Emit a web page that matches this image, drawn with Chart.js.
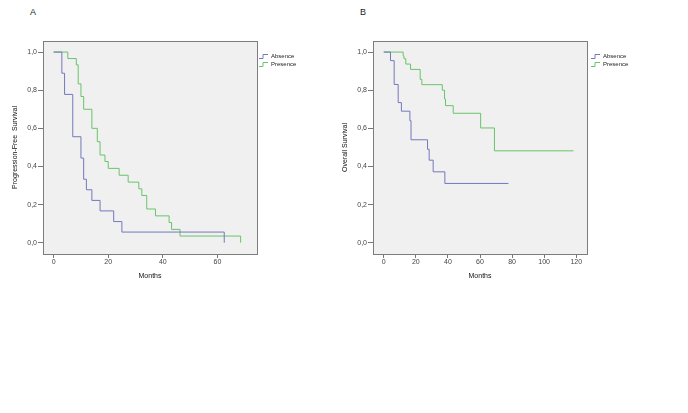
<!DOCTYPE html>
<html>
<head>
<meta charset="utf-8">
<script src="https://cdn.jsdelivr.net/npm/chart.js@4/dist/chart.umd.min.js"></script>
<style>
  body { margin: 0; background: #fff; width: 688px; height: 413px; overflow: hidden; }
  .panel { position: absolute; top: 0; }
  .lbl { position: absolute; font: 9px "Liberation Sans", Arial, sans-serif; color: #222; }
</style>
</head>
<body>
<div class="lbl" style="left:30px;top:7px">A</div>
<div class="lbl" style="left:360px;top:7px">B</div>
<canvas id="chartA" class="panel" style="left:0px" width="330" height="300"></canvas>
<canvas id="chartB" class="panel" style="left:330px" width="358" height="300"></canvas>
<script>
// Panel A - progression-free survival (months, survival)
const pfsAbsenceT = [0, 3, 4, 7, 10, 11, 12, 14, 17, 22, 25, 62.5];
const pfsAbsenceS = [1, 0.889, 0.778, 0.556, 0.444, 0.333, 0.278, 0.222, 0.167, 0.111, 0.056, 0];
const pfsPresenceT = [0, 5.2, 8.3, 9, 10, 11, 14, 16, 17, 18.8, 20, 24, 27.3, 31.2, 32.3, 34.1, 37.3, 42.3, 43.2, 46.3, 68.5];
const pfsPresenceS = [1, 0.966, 0.933, 0.833, 0.767, 0.7, 0.6, 0.53, 0.46, 0.426, 0.39, 0.354, 0.318, 0.283, 0.248, 0.177, 0.141, 0.106, 0.07, 0.035, 0];

// Panel B - overall survival
const osAbsenceT = [0, 4.2, 6.5, 9, 11, 16.3, 17, 27.3, 28.3, 30.8, 38.1, 77.7];
const osAbsenceS = [1, 0.955, 0.83, 0.735, 0.69, 0.64, 0.54, 0.49, 0.433, 0.372, 0.311, 0.311];
const osPresenceT = [0, 12.1, 12.6, 13.75, 16.7, 22.7, 23.75, 36.5, 37.9, 38.5, 43.3, 60.4, 69, 118.3];
const osPresenceS = [1, 0.98, 0.965, 0.937, 0.909, 0.857, 0.829, 0.8, 0.754, 0.719, 0.679, 0.602, 0.482, 0.482];

const groups = ['Absence', 'Presence'];
const yTicks = [0, 0.2, 0.4, 0.6, 0.8, 1.0];
const xTicksA = [0, 20, 40, 60];
const xTicksB = [0, 20, 40, 60, 80, 100, 120];

const blue = '#7478bc';
const green = '#69c469';
const font = { family: '"Liberation Sans", Arial, sans-serif', size: 7 };

function pts(t, s) {
  return t.map((v, i) => ({ x: v, y: s[i] }));
}

// plot background and frame
const boxPlugin = {
  id: 'box',
  beforeDraw(chart) {
    const { ctx, chartArea: a } = chart;
    ctx.save();
    ctx.fillStyle = '#f0f0f0';
    ctx.fillRect(a.left, a.top, a.width, a.height);
    ctx.restore();
  },
  afterDraw(chart) {
    const { ctx, chartArea: a } = chart;
    ctx.save();
    ctx.strokeStyle = '#7d7d7d';
    ctx.lineWidth = 1;
    ctx.strokeRect(Math.round(a.left) + 0.5, Math.round(a.top) + 0.5, Math.round(a.width), Math.round(a.height));
    ctx.restore();
  }
};

// small step-shaped legend beside the plot
const kmLegend = {
  id: 'kmLegend',
  afterDraw(chart, args, opts) {
    const ctx = chart.ctx;
    const x = chart.chartArea.right + opts.dx;
    const y0 = chart.chartArea.top + opts.dy;
    ctx.save();
    ctx.font = '6px "Liberation Sans", Arial, sans-serif';
    ctx.textBaseline = 'middle';
    chart.data.datasets.forEach((ds, i) => {
      const y = y0 + i * 8;
      ctx.strokeStyle = ds.borderColor;
      ctx.lineWidth = 1;
      ctx.beginPath();
      ctx.moveTo(x, y + 2.5);
      ctx.lineTo(x + 4, y + 2.5);
      ctx.lineTo(x + 4, y - 1.5);
      ctx.lineTo(x + 9, y - 1.5);
      ctx.stroke();
      ctx.fillStyle = '#222';
      ctx.fillText(ds.label, x + 12, y);
    });
    ctx.restore();
  }
};

function makeChart(id, sets, xMin, xMax, xTicks, yTitle, padRight, legendDx) {
  new Chart(document.getElementById(id), {
    type: 'line',
    data: {
      datasets: sets.map((s, i) => ({
        label: groups[i],
        data: pts(s[0], s[1]),
        borderColor: i === 0 ? blue : green,
        borderWidth: 1,
        stepped: 'before',
        pointRadius: 0,
        fill: false
      }))
    },
    options: {
      responsive: false,
      animation: false,
      devicePixelRatio: 1,
      layout: { padding: { top: 41, right: padRight, left: 0, bottom: 0 } },
      plugins: {
        legend: { display: false },
        tooltip: { enabled: false },
        kmLegend: { dx: legendDx, dy: 15 }
      },
      scales: {
        x: {
          type: 'linear',
          min: xMin,
          max: xMax,
          afterBuildTicks: sc => { sc.ticks = xTicks.map(v => ({ value: v })); },
          afterFit: sc => { sc.height = 46; },
          ticks: { font: font, color: '#444', padding: 0, maxRotation: 0 },
          grid: { drawOnChartArea: false, tickLength: 4, color: '#777' },
          border: { display: false },
          title: { display: true, text: 'Months', font: font, color: '#111', padding: { bottom: 20 } }
        },
        y: {
          min: -0.059,
          max: 1.058,
          afterBuildTicks: sc => { sc.ticks = yTicks.map(v => ({ value: v })); },
          afterFit: sc => { sc.width = 43; },
          ticks: {
            font: font, color: '#444', padding: 1,
            callback: v => v.toFixed(1).replace('.', ',')
          },
          grid: { drawOnChartArea: false, tickLength: 5, color: '#777' },
          border: { display: false },
          title: { display: true, text: yTitle, font: font, color: '#111', padding: { top: 11 } }
        }
      }
    },
    plugins: [boxPlugin, kmLegend]
  });
}

makeChart('chartA', [[pfsAbsenceT, pfsAbsenceS], [pfsPresenceT, pfsPresenceS]],
  -3.9, 74.5, xTicksA, 'Progression-Free  Survival', 73, 2);
makeChart('chartB', [[osAbsenceT, osAbsenceS], [osPresenceT, osPresenceS]],
  -6.7, 126.7, xTicksB, 'Overall Survival', 101, 4);
</script>
</body>
</html>
